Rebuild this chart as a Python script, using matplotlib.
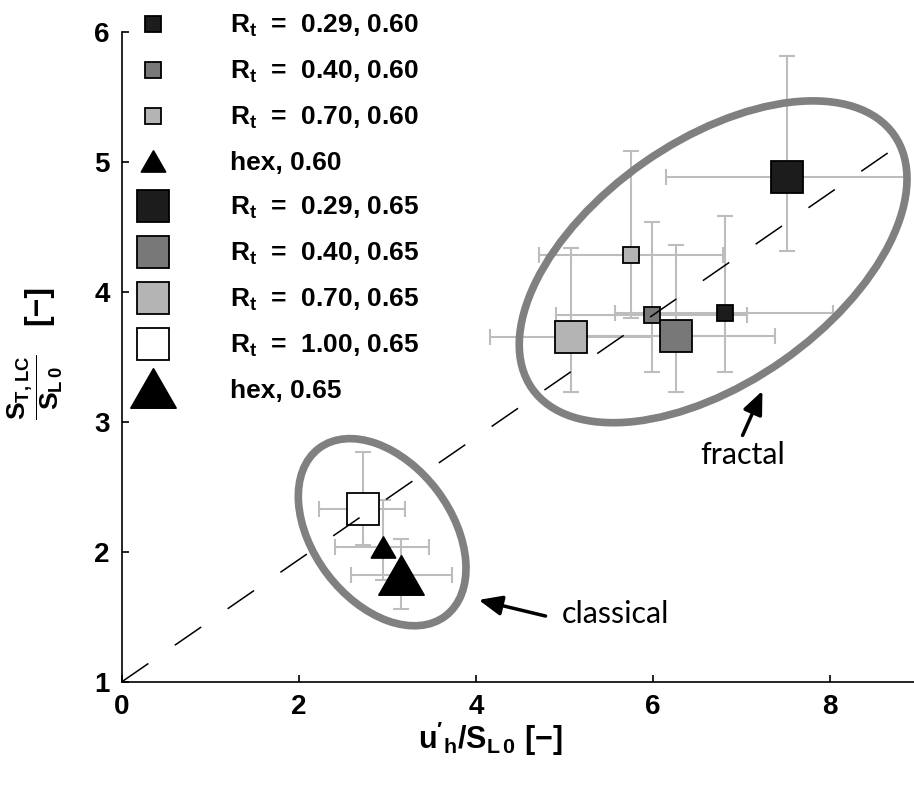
import numpy as np
import matplotlib
matplotlib.use('Agg')
import matplotlib.pyplot as plt
from matplotlib.lines import Line2D
from matplotlib.patches import Ellipse, FancyArrowPatch
from matplotlib.path import Path
import matplotlib.transforms as mtrans

plt.rcParams['font.family'] = ['Liberation Sans', 'DejaVu Sans']
plt.rcParams['font.weight'] = 'bold'
plt.rcParams['axes.labelweight'] = 'bold'
plt.rcParams['mathtext.default'] = 'regular'

# ---------------- data ----------------
labels = [r'$R_t$  =  0.29, 0.60', r'$R_t$  =  0.40, 0.60', r'$R_t$  =  0.70, 0.60', 'hex, 0.60',
          r'$R_t$  =  0.29, 0.65', r'$R_t$  =  0.40, 0.65', r'$R_t$  =  0.70, 0.65', r'$R_t$  =  1.00, 0.65',
          'hex, 0.65']
x_vals = [6.81, 5.99, 5.75, 2.95, 7.51, 6.26, 5.07, 2.72, 3.15]
y_vals = [3.84, 3.82, 4.28, 2.04, 4.88, 3.66, 3.65, 2.33, 1.82]
xerr_lo = [1.24, 1.09, 1.04, 0.54, 1.36, 1.12, 0.91, 0.49, 0.56]
xerr_hi = [1.23, 1.07, 1.04, 0.52, 1.36, 1.12, 0.92, 0.48, 0.58]
yerr_lo = [0.46, 0.44, 0.48, 0.26, 0.57, 0.43, 0.42, 0.28, 0.26]
yerr_hi = [0.74, 0.72, 0.80, 0.36, 0.93, 0.70, 0.69, 0.44, 0.28]
colors = ['#1c1c1c', '#787878', '#b4b4b4', 'black', '#1c1c1c', '#787878', '#b4b4b4', 'white', 'black']
kinds = ['s', 's', 's', 'tri', 's', 's', 's', 's', 'tri']
sizes = [12, 12, 12, 17.3, 23.5, 23.5, 23.5, 23.5, 32.4]

trend_slope = 0.47
trend_x = [0.0, 8.95]

x_ticks = [0, 2, 4, 6, 8]
y_ticks = [1, 2, 3, 4, 5, 6]

tri_path = Path([(0, 0.87), (-1, -0.87), (1, -0.87), (0, 0.87)],
                [Path.MOVETO, Path.LINETO, Path.LINETO, Path.CLOSEPOLY])

def marker_of(k):
    return tri_path if k == 'tri' else 's'

# ---------------- figure ----------------
fig = plt.figure(figsize=(9.14, 7.86), dpi=100)
ax = fig.add_axes([122 / 914, (786 - 681.7) / 786, (914 - 122) / 914, 650 / 786])
ax.set_xlim(0, 8.95)
ax.set_ylim(1, 6)

for xi, yi, xl, xh, yl, yh in zip(x_vals, y_vals, xerr_lo, xerr_hi, yerr_lo, yerr_hi):
    ax.errorbar([xi], [yi], xerr=[[xl], [xh]], yerr=[[yl], [yh]], fmt='none',
                ecolor='#bdbdbd', elinewidth=1.5, capsize=5.5, capthick=1.5, zorder=2)

for xi, yi, c, k, s in zip(x_vals, y_vals, colors, kinds, sizes):
    ax.plot([xi], [yi], ls='none', marker=marker_of(k), ms=s, mfc=c, mec='black', mew=1.3, zorder=3)

tx = np.array(trend_x)
ax.plot(tx, 1 + trend_slope * tx, color='black', lw=1.1, dashes=(21, 21), zorder=4)

# ellipses (pixel-size shapes centred on data positions)
def add_ellipse(cx, cy, w_px, h_px, ang):
    tr = fig.dpi_scale_trans + mtrans.ScaledTranslation(cx, cy, ax.transData)
    e = Ellipse((0, 0), w_px / 100, h_px / 100, angle=ang, fill=False,
                ec='#808080', lw=5.5, transform=tr, zorder=5)
    ax.add_patch(e)

add_ellipse(6.68, 4.23, 442, 242, 35)
add_ellipse(2.94, 2.15, 210, 138, -53)

# arrows and annotations
for (x0, y0), (x1, y1) in [((7.00, 2.875), (7.25, 3.257)), ((4.817, 1.50), (4.0, 1.634))]:
    ar = FancyArrowPatch((x0, y0), (x1, y1), arrowstyle='-|>,head_length=0.7,head_width=0.3',
                         mutation_scale=20, lw=2.5, color='black', zorder=6)
    ax.add_patch(ar)
ax.text(7.01, 2.74, 'fractal', family='Lato', weight='normal', fontsize=22, ha='center', va='center')
ax.text(5.58, 1.52, 'classical', family='Lato', weight='normal', fontsize=22, ha='center', va='center')

# axes styling
for sp in ['top', 'right']:
    ax.spines[sp].set_visible(False)
for sp in ['left', 'bottom']:
    ax.spines[sp].set_linewidth(1.2)
ax.set_xticks(x_ticks)
ax.set_yticks(y_ticks)
ax.tick_params(direction='in', length=5, width=1.2, labelsize=20, pad=9)

ax.set_xlabel(r"$u'_h/S_{L\,0}$ [−]", fontsize=22)
ax.xaxis.set_label_coords(0.465, -0.058)
ax.xaxis.label.set_va('top')
ax.set_ylabel(r"$\dfrac{S_{T,LC}}{S_{L\,0}}$", fontsize=19)
ax.yaxis.set_label_coords(-0.072, 0.453)
ax.text((38 - 122) / 792, (681.7 - 305) / 650, '[−]', transform=ax.transAxes, rotation=90,
        fontsize=23, ha='center', va='center')

# legend
handles = [Line2D([], [], ls='none', marker=marker_of(k), ms=s, mfc=c, mec='black', mew=1.3)
           for c, k, s in zip(colors, kinds, sizes)]
leg = ax.legend(handles, labels, loc='upper left', bbox_to_anchor=(126.6 / 914, 1 - 13 / 786),
                bbox_transform=fig.transFigure, frameon=False, fontsize=19,
                handlelength=2.0, handletextpad=1.9, labelspacing=0.75,
                borderpad=0, borderaxespad=0)

fig.savefig('out.png', dpi=100)
